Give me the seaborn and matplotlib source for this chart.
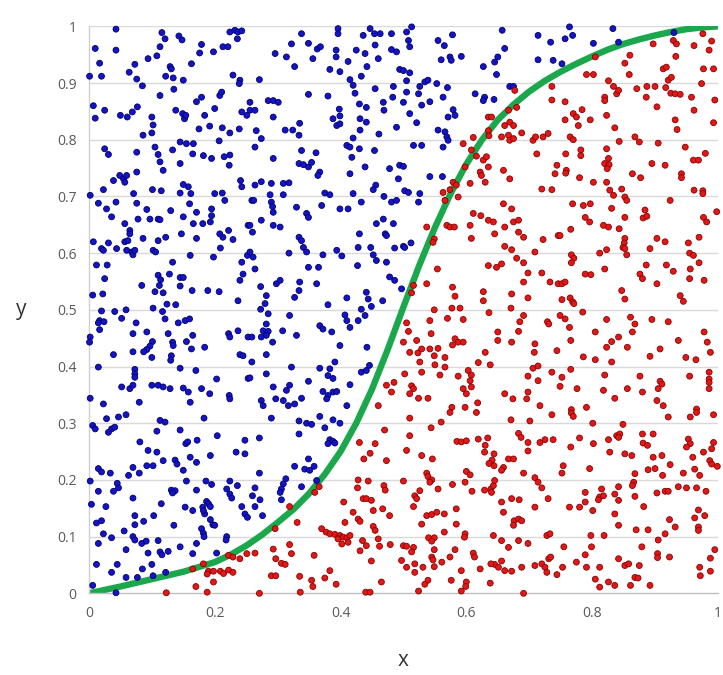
import pandas as pd
import matplotlib
matplotlib.use('Agg')
import matplotlib.pyplot as plt
import seaborn as sns

# points above the curve (blue)
blue_pts = [
    (0.043,0.995),(0.010,0.961),(0.043,0.958),(0.116,0.989),(0.121,0.978),(0.143,0.983),(0.148,0.976),(0.017,0.935),
    (0.001,0.912),(0.020,0.912),(0.064,0.919),(0.073,0.933),(0.076,0.907),(0.085,0.895),(0.094,0.943),(0.108,0.948),
    (0.113,0.964),(0.129,0.929),(0.131,0.925),(0.122,0.912),(0.134,0.909),(0.150,0.905),(0.163,0.934),(0.176,0.953),
    (0.179,0.968),(0.198,0.955),(0.213,0.964),(0.221,0.964),(0.224,0.990),(0.232,0.993),(0.237,0.990),(0.243,0.992),
    (0.236,0.978),(0.229,0.914),(0.240,0.905),(0.239,0.899),(0.135,0.889),(0.113,0.878),(0.179,0.875),(0.171,0.867),
    (0.208,0.878),(0.211,0.884),(0.007,0.860),(0.010,0.838),(0.025,0.852),(0.050,0.843),(0.061,0.840),(0.069,0.849),
    (0.077,0.858),(0.100,0.840),(0.102,0.826),(0.100,0.812),(0.086,0.808),(0.138,0.852),(0.149,0.846),(0.152,0.837),
    (0.154,0.843),(0.184,0.843),(0.200,0.855),(0.175,0.819),(0.192,0.824),(0.212,0.821),(0.224,0.812),(0.239,0.819),
    (0.243,0.849),(0.251,0.843),(0.207,0.798),(0.025,0.784),(0.031,0.774),(0.076,0.778),(0.105,0.787),(0.110,0.774),
    (0.113,0.761),(0.118,0.746),(0.133,0.782),(0.145,0.796),(0.155,0.793),(0.166,0.793),(0.145,0.758),(0.165,0.775),
    (0.182,0.772),(0.195,0.767),(0.215,0.770),(0.224,0.773),(0.223,0.755),(0.076,0.743),(0.039,0.728),(0.049,0.737),
    (0.055,0.731),(0.057,0.725),(0.060,0.737),(0.023,0.712),(0.002,0.702),(0.015,0.688),(0.028,0.678),(0.043,0.690),
    (0.076,0.688),(0.092,0.677),(0.071,0.705),(0.101,0.712),(0.115,0.710),(0.145,0.706),(0.150,0.721),(0.158,0.717),
    (0.162,0.705),(0.160,0.687),(0.130,0.675),(0.200,0.705),(0.212,0.706),(0.216,0.693),(0.241,0.728),(0.243,0.717),
    (0.195,0.678),(0.171,0.672),
    (0.338,0.987),(0.322,0.969),(0.349,0.970),(0.363,0.960),(0.368,0.964),(0.356,0.943),(0.296,0.952),(0.314,0.946),
    (0.327,0.929),(0.396,0.996),(0.396,0.987),(0.393,0.958),(0.393,0.946),(0.383,0.924),(0.399,0.920),(0.412,0.938),
    (0.425,0.958),(0.439,0.952),(0.436,0.984),(0.447,0.996),(0.454,0.987),(0.455,0.967),(0.460,0.943),(0.442,0.929),
    (0.463,0.987),(0.481,0.987),(0.481,0.959),(0.489,0.955),(0.494,0.924),(0.271,0.906),(0.415,0.906),(0.420,0.896),
    (0.423,0.882),(0.433,0.912),(0.455,0.890),(0.484,0.894),(0.483,0.875),(0.349,0.880),(0.380,0.877),(0.285,0.869),
    (0.293,0.869),(0.301,0.866),(0.256,0.866),(0.256,0.852),(0.264,0.852),(0.293,0.840),(0.398,0.854),(0.399,0.842),
    (0.388,0.837),(0.394,0.825),(0.399,0.828),(0.430,0.863),(0.441,0.857),(0.468,0.866),(0.469,0.852),(0.431,0.837),
    (0.441,0.831),(0.431,0.817),(0.489,0.822),(0.335,0.829),(0.334,0.808),(0.312,0.817),(0.324,0.817),(0.266,0.816),
    (0.274,0.802),(0.264,0.787),(0.410,0.790),(0.415,0.787),(0.430,0.784),(0.420,0.803),(0.461,0.810),(0.454,0.781),
    (0.338,0.781),(0.361,0.777),(0.293,0.767),(0.418,0.769),(0.334,0.758),(0.341,0.756),(0.349,0.752),(0.354,0.760),
    (0.367,0.743),(0.364,0.737),(0.439,0.752),(0.478,0.749),(0.494,0.755),(0.415,0.740),(0.492,0.731),(0.264,0.720),
    (0.274,0.726),(0.290,0.723),(0.309,0.723),(0.318,0.724),(0.456,0.720),(0.452,0.712),(0.309,0.703),(0.288,0.703),
    (0.375,0.706),(0.383,0.703),(0.259,0.693),(0.262,0.693),(0.290,0.690),(0.292,0.682),(0.293,0.672),(0.330,0.681),
    (0.346,0.670),(0.370,0.684),(0.399,0.678),(0.412,0.678),(0.420,0.705),(0.433,0.690),(0.469,0.700),(0.481,0.690),
    (0.489,0.693),
    (0.513,0.999),(0.505,0.990),(0.508,0.975),(0.510,0.964),(0.500,0.922),(0.510,0.918),(0.505,0.904),(0.505,0.884),
    (0.500,0.866),(0.510,0.846),(0.521,0.830),(0.526,0.894),(0.534,0.902),(0.539,0.905),(0.524,0.881),(0.529,0.861),
    (0.542,0.867),(0.553,0.899),(0.570,0.892),(0.563,0.875),(0.555,0.975),(0.565,0.966),(0.560,0.941),(0.574,0.946),
    (0.576,0.940),(0.578,0.985),(0.592,0.947),(0.579,0.853),(0.582,0.843),(0.571,0.840),(0.555,0.817),(0.566,0.814),
    (0.569,0.805),(0.571,0.799),(0.563,0.787),(0.516,0.790),(0.529,0.790),(0.500,0.753),(0.542,0.735),(0.562,0.735),
    (0.502,0.710),(0.508,0.707),(0.526,0.705),(0.524,0.690),(0.614,0.881),(0.629,0.875),(0.627,0.869),(0.644,0.871),
    (0.627,0.929),(0.645,0.937),(0.650,0.946),(0.648,0.915),(0.657,0.993),(0.661,0.961),(0.669,0.894),(0.675,0.894),
    (0.714,0.984),(0.734,0.972),(0.714,0.941),(0.738,0.940),
    (0.764,0.999),(0.769,0.984),(0.757,0.978),(0.802,0.970),(0.833,0.996),(0.842,0.972),(0.752,0.934),(0.930,0.989),
    (0.036,0.664),(0.057,0.652),(0.065,0.640),(0.065,0.634),(0.078,0.660),(0.097,0.660),(0.110,0.660),(0.113,0.659),
    (0.150,0.664),(0.166,0.652),(0.181,0.652),(0.193,0.655),(0.195,0.666),(0.147,0.634),(0.086,0.626),(0.110,0.622),
    (0.122,0.628),(0.171,0.626),(0.208,0.634),(0.213,0.628),(0.222,0.640),(0.229,0.624),(0.253,0.649),(0.007,0.620),
    (0.031,0.618),(0.020,0.608),(0.023,0.605),(0.044,0.608),(0.057,0.620),(0.062,0.622),(0.060,0.605),(0.068,0.602),
    (0.070,0.597),(0.073,0.605),(0.102,0.605),(0.106,0.602),(0.161,0.596),(0.198,0.593),(0.209,0.609),(0.012,0.579),
    (0.029,0.579),(0.133,0.584),(0.243,0.584),(0.252,0.596),(0.025,0.555),(0.084,0.543),(0.110,0.561),(0.114,0.553),
    (0.112,0.543),(0.105,0.532),(0.118,0.530),(0.128,0.563),(0.145,0.557),(0.150,0.557),(0.145,0.542),(0.164,0.534),
    (0.189,0.534),(0.207,0.532),(0.240,0.552),(0.245,0.563),(0.237,0.516),(0.006,0.526),(0.022,0.528),(0.124,0.510),
    (0.138,0.509),(0.102,0.503),(0.117,0.497),(0.020,0.498),(0.041,0.497),(0.059,0.500),(0.017,0.481),(0.015,0.477),
    (0.024,0.479),(0.017,0.465),(0.052,0.485),(0.075,0.477),(0.121,0.484),(0.142,0.477),(0.153,0.481),(0.160,0.484),
    (0.002,0.452),(0.001,0.443),(0.070,0.458),(0.092,0.461),(0.126,0.458),(0.165,0.455),(0.222,0.458),(0.224,0.452),
    (0.237,0.463),(0.253,0.452),(0.101,0.444),(0.097,0.436),(0.092,0.430),(0.087,0.426),(0.133,0.443),(0.134,0.437),
    (0.155,0.444),(0.163,0.431),(0.184,0.434),(0.039,0.421),(0.070,0.426),(0.100,0.416),(0.131,0.419),(0.130,0.411),
    (0.240,0.421),(0.245,0.419),(0.015,0.399),(0.073,0.395),(0.073,0.387),(0.073,0.381),(0.145,0.397),(0.170,0.393),
    (0.253,0.379),(0.052,0.364),(0.065,0.361),(0.070,0.367),(0.100,0.367),(0.110,0.367),(0.118,0.364),(0.129,0.361),
    (0.150,0.362),(0.158,0.355),(0.179,0.361),(0.192,0.352),(0.203,0.378),(0.223,0.349),(0.224,0.343),(0.002,0.344),
    (0.023,0.334),(0.080,0.337),(0.161,0.337),
    (0.256,0.649),(0.260,0.637),(0.274,0.658),(0.293,0.649),(0.304,0.646),(0.349,0.663),(0.334,0.628),(0.338,0.622),
    (0.341,0.610),(0.346,0.602),(0.318,0.600),(0.372,0.597),(0.394,0.605),(0.402,0.595),(0.428,0.610),(0.430,0.634),
    (0.448,0.610),(0.452,0.597),(0.457,0.587),(0.457,0.652),(0.468,0.660),(0.471,0.634),(0.473,0.631),(0.484,0.652),
    (0.486,0.609),(0.500,0.612),(0.473,0.584),(0.256,0.602),(0.261,0.593),(0.264,0.572),(0.349,0.575),(0.365,0.575),
    (0.427,0.578),(0.478,0.558),(0.486,0.552),(0.497,0.537),(0.273,0.541),(0.298,0.546),(0.304,0.552),(0.335,0.549),
    (0.334,0.534),(0.362,0.546),(0.327,0.522),(0.282,0.525),(0.280,0.511),(0.380,0.509),(0.410,0.521),(0.441,0.531),
    (0.444,0.519),(0.449,0.506),(0.467,0.516),(0.273,0.501),(0.285,0.493),(0.319,0.490),(0.407,0.491),(0.410,0.481),
    (0.415,0.469),(0.428,0.481),(0.433,0.501),(0.439,0.490),(0.282,0.475),(0.277,0.463),(0.285,0.462),(0.282,0.455),
    (0.274,0.452),(0.259,0.452),(0.292,0.443),(0.308,0.463),(0.330,0.455),(0.367,0.472),(0.372,0.466),(0.386,0.461),
    (0.399,0.437),(0.442,0.434),(0.282,0.421),(0.259,0.408),(0.282,0.387),(0.322,0.399),(0.367,0.397),(0.383,0.396),
    (0.391,0.408),(0.380,0.384),(0.388,0.379),(0.433,0.390),(0.441,0.393),(0.446,0.402),(0.256,0.380),(0.349,0.374),
    (0.415,0.368),(0.293,0.364),(0.319,0.367),(0.314,0.358),(0.372,0.356),(0.380,0.349),(0.388,0.355),(0.394,0.356),
    (0.378,0.343),(0.274,0.340),(0.277,0.331),(0.297,0.343),(0.309,0.340),(0.327,0.334),(0.338,0.344),(0.317,0.331),
    (0.410,0.331),(0.502,0.610),(0.512,0.618),
    (0.059,0.315),(0.047,0.311),(0.028,0.308),(0.036,0.290),(0.031,0.284),(0.041,0.293),(0.006,0.296),(0.010,0.290),
    (0.113,0.305),(0.121,0.302),(0.108,0.286),(0.145,0.288),(0.183,0.309),(0.081,0.267),(0.154,0.264),(0.157,0.267),
    (0.172,0.270),(0.204,0.278),(0.248,0.270),(0.234,0.249),(0.248,0.246),(0.094,0.252),(0.108,0.249),(0.193,0.243),
    (0.161,0.240),(0.171,0.231),(0.118,0.234),(0.137,0.235),(0.140,0.228),(0.150,0.217),(0.092,0.225),(0.102,0.225),
    (0.070,0.222),(0.063,0.208),(0.080,0.212),(0.015,0.220),(0.020,0.214),(0.034,0.212),(0.002,0.198),(0.045,0.194),
    (0.047,0.186),(0.039,0.180),(0.015,0.180),(0.070,0.168),(0.155,0.198),(0.186,0.198),(0.195,0.192),(0.171,0.182),
    (0.131,0.182),(0.137,0.181),(0.133,0.177),(0.219,0.184),(0.224,0.175),(0.227,0.168),(0.236,0.190),(0.224,0.198),
    (0.004,0.157),(0.027,0.153),(0.115,0.158),(0.153,0.152),(0.165,0.146),(0.181,0.152),(0.187,0.162),(0.190,0.158),
    (0.193,0.153),(0.184,0.140),(0.182,0.146),(0.243,0.153),(0.248,0.140),(0.252,0.134),(0.073,0.137),(0.087,0.127),
    (0.103,0.137),(0.012,0.124),(0.020,0.128),(0.073,0.121),(0.135,0.120),(0.179,0.114),(0.182,0.106),(0.183,0.100),
    (0.193,0.130),(0.197,0.121),(0.200,0.120),(0.056,0.110),(0.023,0.105),(0.036,0.098),(0.015,0.088),(0.070,0.100),
    (0.073,0.094),(0.084,0.088),(0.091,0.092),(0.110,0.093),(0.219,0.100),(0.218,0.094),(0.059,0.077),(0.094,0.071),
    (0.113,0.073),(0.116,0.068),(0.126,0.074),(0.145,0.082),(0.171,0.088),(0.165,0.070),(0.203,0.071),(0.012,0.051),
    (0.045,0.051),(0.100,0.051),(0.036,0.037),(0.059,0.028),(0.077,0.028),(0.085,0.043),(0.102,0.031),(0.122,0.037),
    (0.006,0.014),(0.043,0.001),
    (0.290,0.309),(0.334,0.304),(0.346,0.300),(0.354,0.298),(0.367,0.312),(0.388,0.306),(0.399,0.300),(0.375,0.292),
    (0.334,0.281),(0.271,0.274),(0.383,0.271),(0.388,0.268),(0.380,0.264),(0.391,0.265),(0.349,0.237),(0.327,0.224),
    (0.343,0.219),(0.351,0.217),(0.358,0.224),(0.271,0.212),(0.362,0.199),(0.313,0.202),(0.309,0.193),(0.306,0.184),
    (0.304,0.178),(0.338,0.188),(0.264,0.186),(0.260,0.172),(0.272,0.165),(0.264,0.153),(0.276,0.137),(0.306,0.165),
]

# points below the curve (red)
red_pts = [
    (0.677,0.887),(0.736,0.894),(0.736,0.870),(0.635,0.840),(0.640,0.840),(0.667,0.852),(0.680,0.857),(0.669,0.831),
    (0.661,0.825),(0.675,0.825),(0.635,0.816),(0.636,0.807),(0.611,0.804),(0.595,0.793),(0.656,0.805),(0.667,0.808),
    (0.669,0.799),(0.675,0.802),(0.688,0.812),(0.706,0.799),(0.710,0.805),(0.722,0.805),(0.730,0.811),(0.712,0.775),
    (0.608,0.782),(0.616,0.771),(0.627,0.764),(0.632,0.770),(0.635,0.752),(0.622,0.743),(0.659,0.746),(0.669,0.731),
    (0.744,0.755),(0.741,0.740),(0.598,0.752),(0.606,0.723),(0.579,0.725),(0.584,0.720),(0.574,0.712),(0.563,0.707),
    (0.566,0.693),(0.587,0.699),(0.720,0.713),(0.736,0.712),(0.659,0.687),(0.672,0.678),(0.611,0.670),(0.624,0.737),
    (0.630,0.725),
    (0.805,0.946),(0.860,0.949),(0.852,0.935),(0.859,0.915),(0.791,0.915),(0.802,0.915),(0.826,0.904),(0.834,0.894),
    (0.839,0.881),(0.842,0.887),(0.820,0.875),(0.820,0.869),(0.871,0.890),(0.887,0.894),(0.900,0.894),(0.886,0.875),
    (0.903,0.858),(0.897,0.969),(0.929,0.975),(0.934,0.969),(0.933,0.947),(0.913,0.925),(0.918,0.928),(0.921,0.905),
    (0.926,0.910),(0.917,0.892),(0.925,0.882),(0.932,0.881),(0.940,0.880),(0.958,0.875),(0.962,0.852),(0.962,0.966),
    (0.976,0.987),(0.990,0.974),(0.986,0.958),(0.977,0.925),(0.993,0.925),(0.974,0.899),(0.995,0.870),(0.993,0.830),
    (0.932,0.835),(0.935,0.818),(0.757,0.867),(0.757,0.835),(0.770,0.846),(0.775,0.840),(0.778,0.825),(0.784,0.853),
    (0.797,0.835),(0.823,0.843),(0.836,0.821),(0.765,0.805),(0.770,0.800),(0.782,0.782),(0.782,0.772),(0.758,0.775),
    (0.759,0.746),(0.758,0.741),(0.780,0.733),(0.802,0.725),(0.823,0.784),(0.826,0.767),(0.820,0.758),(0.827,0.756),
    (0.824,0.749),(0.843,0.797),(0.868,0.805),(0.875,0.796),(0.905,0.794),(0.948,0.787),(0.895,0.758),(0.916,0.755),
    (0.961,0.764),(0.969,0.764),(0.980,0.776),(0.864,0.740),(0.877,0.733),(0.942,0.740),(0.942,0.733),(0.823,0.725),
    (0.828,0.711),(0.834,0.702),(0.847,0.713),(0.852,0.699),(0.855,0.693),(0.769,0.687),(0.786,0.684),(0.797,0.687),
    (0.924,0.693),(0.962,0.711),(0.976,0.710),(0.976,0.705),(0.884,0.676),(0.998,0.673),(0.831,0.679),
    (0.500,0.443),(0.473,0.367),(0.485,0.372),(0.481,0.355),(0.460,0.331),
    (0.537,0.646),(0.569,0.649),(0.574,0.646),(0.581,0.646),(0.549,0.625),(0.547,0.619),(0.623,0.666),(0.635,0.658),
    (0.643,0.655),(0.606,0.649),(0.608,0.626),(0.645,0.634),(0.661,0.646),(0.675,0.655),(0.683,0.658),(0.683,0.637),
    (0.691,0.628),(0.722,0.624),(0.746,0.631),(0.661,0.612),(0.672,0.606),(0.709,0.602),(0.680,0.591),(0.691,0.583),
    (0.635,0.578),(0.648,0.575),(0.656,0.581),(0.554,0.572),(0.698,0.565),(0.720,0.565),(0.691,0.549),(0.733,0.549),
    (0.746,0.546),(0.537,0.546),(0.516,0.543),(0.513,0.530),(0.578,0.540),(0.582,0.524),(0.627,0.532),(0.627,0.516),
    (0.672,0.528),(0.698,0.521),(0.549,0.500),(0.542,0.481),(0.577,0.503),(0.590,0.503),(0.570,0.485),(0.595,0.483),
    (0.636,0.495),(0.671,0.503),(0.691,0.490),(0.685,0.479),(0.729,0.479),(0.731,0.475),(0.505,0.477),(0.508,0.462),
    (0.544,0.458),(0.650,0.461),(0.650,0.446),(0.683,0.462),(0.521,0.446),(0.582,0.449),(0.587,0.443),(0.578,0.438),
    (0.595,0.443),(0.672,0.443),(0.709,0.440),(0.510,0.425),(0.523,0.424),(0.529,0.431),(0.542,0.431),(0.555,0.432),
    (0.549,0.419),(0.566,0.416),(0.630,0.425),(0.708,0.425),(0.744,0.428),(0.526,0.408),(0.550,0.403),(0.566,0.399),
    (0.619,0.407),(0.638,0.403),(0.706,0.397),(0.714,0.401),(0.529,0.390),(0.502,0.387),(0.558,0.385),(0.587,0.383),
    (0.603,0.393),(0.608,0.385),(0.606,0.375),(0.698,0.383),(0.714,0.375),(0.736,0.390),(0.513,0.366),(0.516,0.361),
    (0.510,0.352),(0.524,0.344),(0.539,0.344),(0.595,0.361),(0.600,0.352),(0.608,0.364),(0.577,0.328),(0.598,0.328),
    (0.618,0.336),(0.661,0.352),(0.674,0.343),(0.698,0.355),(0.696,0.343),(0.717,0.331),
    (0.789,0.663),(0.796,0.655),(0.881,0.662),(0.887,0.665),(0.852,0.663),(0.818,0.649),(0.826,0.646),(0.843,0.643),
    (0.766,0.642),(0.749,0.631),(0.977,0.663),(0.982,0.655),(0.903,0.626),(0.916,0.620),(0.953,0.618),(0.970,0.628),
    (0.852,0.626),(0.851,0.618),(0.849,0.610),(0.852,0.608),(0.855,0.597),(0.812,0.600),(0.823,0.606),(0.892,0.608),
    (0.767,0.597),(0.771,0.591),(0.767,0.583),(0.955,0.600),(0.961,0.596),(0.956,0.572),(0.970,0.583),(0.886,0.579),
    (0.918,0.579),(0.929,0.568),(0.820,0.572),(0.789,0.563),(0.798,0.562),(0.876,0.563),(0.880,0.555),(0.903,0.546),
    (0.955,0.555),(0.978,0.552),(0.752,0.546),(0.757,0.549),(0.847,0.534),(0.852,0.519),(0.940,0.525),(0.945,0.515),
    (0.752,0.518),(0.765,0.521),(0.769,0.514),(0.771,0.511),(0.785,0.496),(0.749,0.490),(0.757,0.484),(0.764,0.469),
    (0.823,0.483),(0.861,0.487),(0.868,0.475),(0.864,0.461),(0.895,0.483),(0.921,0.479),(0.805,0.461),(0.766,0.446),
    (0.842,0.452),(0.831,0.444),(0.823,0.434),(0.856,0.434),(0.937,0.446),(0.978,0.461),(0.983,0.443),(0.988,0.425),
    (0.908,0.431),(0.786,0.417),(0.805,0.412),(0.831,0.408),(0.892,0.418),(0.949,0.416),(0.965,0.412),(0.766,0.395),
    (0.752,0.381),(0.749,0.365),(0.820,0.385),(0.876,0.383),(0.908,0.374),(0.911,0.369),(0.905,0.361),(0.955,0.383),
    (0.986,0.390),(0.986,0.378),(0.986,0.372),(0.986,0.361),(0.776,0.361),(0.818,0.358),(0.856,0.361),(0.880,0.355),
    (0.836,0.344),(0.903,0.340),(0.913,0.331),(0.791,0.328),(0.767,0.324),(0.966,0.325),
    (0.123,0.001),(0.165,0.043),(0.190,0.039),(0.188,0.034),(0.198,0.039),(0.209,0.039),(0.214,0.035),(0.222,0.041),
    (0.229,0.037),(0.182,0.052),(0.222,0.067),(0.229,0.064),(0.240,0.061),(0.251,0.070),(0.198,0.020),(0.170,0.012),
    (0.188,0.002),
    (0.470,0.288),(0.430,0.266),(0.455,0.264),(0.447,0.247),(0.437,0.237),(0.473,0.234),(0.428,0.200),(0.444,0.198),
    (0.427,0.186),(0.469,0.190),(0.471,0.182),(0.500,0.198),(0.436,0.167),(0.441,0.167),(0.449,0.164),(0.405,0.161),
    (0.366,0.188),(0.359,0.178),(0.319,0.153),(0.420,0.143),(0.428,0.131),(0.431,0.127),(0.452,0.146),(0.467,0.149),
    (0.478,0.137),(0.331,0.125),(0.407,0.125),(0.452,0.118),(0.455,0.111),(0.296,0.114),(0.370,0.114),(0.377,0.108),
    (0.383,0.105),(0.391,0.104),(0.399,0.102),(0.404,0.099),(0.396,0.096),(0.410,0.098),(0.412,0.090),(0.415,0.102),
    (0.402,0.087),(0.435,0.093),(0.441,0.084),(0.460,0.096),(0.462,0.083),(0.479,0.086),(0.431,0.075),(0.500,0.084),
    (0.497,0.058),(0.264,0.071),(0.293,0.078),(0.319,0.086),(0.322,0.070),(0.297,0.061),(0.306,0.053),(0.312,0.051),
    (0.358,0.067),(0.449,0.057),(0.383,0.040),(0.375,0.027),(0.290,0.031),(0.297,0.031),(0.335,0.030),(0.354,0.023),
    (0.356,0.012),(0.393,0.016),(0.465,0.020),(0.271,0.000),(0.336,0.002),(0.440,0.002),(0.447,0.002),
    (0.510,0.309),(0.544,0.292),(0.560,0.302),(0.574,0.319),(0.616,0.319),(0.671,0.306),(0.701,0.304),(0.736,0.315),
    (0.510,0.278),(0.505,0.252),(0.529,0.243),(0.546,0.237),(0.585,0.268),(0.592,0.267),(0.600,0.269),(0.619,0.272),
    (0.634,0.274),(0.630,0.261),(0.629,0.249),(0.644,0.246),(0.641,0.235),(0.636,0.229),(0.644,0.225),(0.659,0.222),
    (0.656,0.217),(0.667,0.237),(0.675,0.237),(0.683,0.282),(0.687,0.275),(0.698,0.266),(0.698,0.251),(0.717,0.266),
    (0.725,0.271),(0.738,0.271),(0.691,0.212),(0.709,0.204),(0.714,0.196),(0.720,0.186),(0.730,0.167),(0.537,0.212),
    (0.539,0.206),(0.545,0.200),(0.542,0.196),(0.518,0.172),(0.526,0.181),(0.521,0.167),(0.555,0.184),(0.578,0.192),
    (0.600,0.215),(0.606,0.209),(0.598,0.196),(0.609,0.180),(0.629,0.182),(0.639,0.184),(0.643,0.190),(0.645,0.199),
    (0.640,0.178),(0.656,0.161),(0.659,0.143),(0.672,0.167),(0.684,0.165),(0.709,0.152),(0.676,0.128),(0.683,0.131),
    (0.688,0.128),(0.675,0.120),(0.584,0.149),(0.584,0.122),(0.516,0.153),(0.537,0.137),(0.545,0.139),(0.553,0.143),
    (0.565,0.140),(0.529,0.122),(0.565,0.108),(0.598,0.105),(0.597,0.099),(0.540,0.098),(0.549,0.098),(0.545,0.092),
    (0.505,0.083),(0.516,0.081),(0.513,0.073),(0.643,0.102),(0.656,0.093),(0.667,0.081),(0.683,0.093),(0.698,0.088),
    (0.728,0.102),(0.733,0.105),(0.582,0.077),(0.549,0.077),(0.545,0.064),(0.547,0.059),(0.611,0.071),(0.613,0.064),
    (0.574,0.064),(0.561,0.055),(0.549,0.047),(0.505,0.046),(0.518,0.052),(0.518,0.037),(0.531,0.046),(0.656,0.057),
    (0.645,0.051),(0.651,0.046),(0.661,0.040),(0.672,0.039),(0.639,0.052),(0.622,0.043),(0.592,0.040),(0.688,0.046),
    (0.709,0.049),(0.720,0.052),(0.725,0.046),(0.731,0.061),(0.734,0.064),(0.744,0.033),(0.728,0.037),(0.539,0.023),
    (0.534,0.016),(0.576,0.023),(0.600,0.020),(0.599,0.012),(0.592,0.004),(0.638,0.018),(0.524,0.004),(0.691,0.000),
    (0.767,0.318),(0.770,0.312),(0.801,0.300),(0.921,0.311),(0.956,0.311),(0.966,0.319),(0.993,0.315),(0.766,0.258),
    (0.780,0.274),(0.802,0.264),(0.826,0.271),(0.828,0.249),(0.839,0.278),(0.844,0.281),(0.849,0.298),(0.842,0.275),
    (0.852,0.246),(0.863,0.243),(0.880,0.281),(0.897,0.281),(0.881,0.265),(0.888,0.261),(0.897,0.240),(0.911,0.243),
    (0.889,0.218),(0.900,0.220),(0.912,0.208),(0.924,0.227),(0.945,0.212),(0.953,0.272),(0.956,0.264),(0.950,0.258),
    (0.960,0.240),(0.963,0.219),(0.971,0.208),(0.977,0.249),(0.987,0.234),(0.990,0.228),(0.993,0.266),(0.990,0.255),
    (0.999,0.224),(0.754,0.225),(0.752,0.212),(0.796,0.220),(0.868,0.211),(0.866,0.196),(0.864,0.190),(0.842,0.188),
    (0.836,0.175),(0.842,0.164),(0.868,0.171),(0.764,0.152),(0.780,0.152),(0.789,0.161),(0.789,0.178),(0.801,0.146),
    (0.815,0.184),(0.812,0.170),(0.810,0.165),(0.818,0.172),(0.836,0.140),(0.842,0.120),(0.882,0.153),(0.903,0.177),
    (0.916,0.180),(0.921,0.180),(0.937,0.188),(0.950,0.186),(0.966,0.186),(0.981,0.180),(0.969,0.147),(0.963,0.133),
    (0.979,0.137),(0.969,0.117),(0.969,0.111),(0.923,0.130),(0.932,0.117),(0.870,0.112),(0.889,0.112),(0.916,0.105),
    (0.905,0.094),(0.798,0.102),(0.819,0.102),(0.755,0.082),(0.799,0.082),(0.879,0.082),(0.904,0.070),(0.904,0.063),
    (0.923,0.064),(0.995,0.077),(0.988,0.062),(0.753,0.046),(0.775,0.055),(0.789,0.068),(0.791,0.046),(0.812,0.046),
    (0.842,0.061),(0.852,0.049),(0.858,0.052),(0.875,0.049),(0.971,0.046),(0.972,0.031),(0.988,0.039),(0.805,0.025),
    (0.812,0.011),(0.826,0.020),(0.836,0.014),(0.868,0.028),(0.873,0.027),(0.861,0.014),(0.892,0.014),
]

# S-shaped boundary curve
curve_x = [0, 0.05, 0.10, 0.15, 0.20, 0.225, 0.25, 0.275, 0.30, 0.325, 0.35, 0.375, 0.40,
           0.425, 0.45, 0.475, 0.50, 0.525, 0.55, 0.575, 0.60, 0.625, 0.65, 0.675, 0.70,
           0.725, 0.75, 0.775, 0.80, 0.825, 0.85, 0.875, 0.90, 0.925, 0.95, 0.975, 1.0]
curve_y = [0, 0.012, 0.025, 0.038, 0.055, 0.068, 0.084, 0.103, 0.125, 0.148, 0.176, 0.21, 0.25,
           0.30, 0.36, 0.43, 0.505, 0.578, 0.645, 0.705, 0.757, 0.800, 0.835, 0.862, 0.885,
           0.904, 0.920, 0.934, 0.947, 0.959, 0.969, 0.977, 0.984, 0.990, 0.995, 0.998, 1.0]

x_ticks = [0, 0.2, 0.4, 0.6, 0.8, 1]
x_tick_labels = ['0', '0.2', '0.4', '0.6', '0.8', '1']
y_ticks = [0, 0.1, 0.2, 0.3, 0.4, 0.5, 0.6, 0.7, 0.8, 0.9, 1]
y_tick_labels = ['0', '0.1', '0.2', '0.3', '0.4', '0.5', '0.6', '0.7', '0.8', '0.9', '1']

pts = pd.DataFrame(blue_pts + red_pts, columns=['x', 'y'])
pts['side'] = ['above'] * len(blue_pts) + ['below'] * len(red_pts)
curve = pd.DataFrame({'x': curve_x, 'y': curve_y})

sns.set_style('white')
plt.rcParams['font.family'] = ['Open Sans', 'DejaVu Sans']

fig = plt.figure(figsize=(7.23, 6.75), dpi=100)
ax = fig.add_axes([0.123, 0.121, 0.870, 0.840])

for v in y_ticks[1:]:
    ax.axhline(v, color='#d9d9d9', lw=1.0, zorder=0)

sns.lineplot(data=curve, x='x', y='y', sort=False, estimator=None,
             color='#1ba84c', lw=4.6, ax=ax, zorder=2,
             solid_joinstyle='round', solid_capstyle='round')
sns.scatterplot(data=pts, x='x', y='y', hue='side',
                palette={'above': '#1414c4', 'below': '#e01818'},
                s=18, linewidth=0.6, edgecolor=None, legend=False,
                ax=ax, zorder=3, clip_on=False)
coll = ax.collections[-1]
edge = ['#00006e' if s == 'above' else '#8a0000' for s in pts['side']]
coll.set_edgecolors(edge)

ax.set_xlim(0, 1)
ax.set_ylim(0, 1)
ax.set_xticks(x_ticks)
ax.set_xticklabels(x_tick_labels)
ax.set_yticks(y_ticks)
ax.set_yticklabels(y_tick_labels)
ax.tick_params(axis='both', length=0, labelsize=10, colors='#595959', pad=9)

for side in ['top', 'right']:
    ax.spines[side].set_visible(False)
ax.spines['left'].set_color('#d0d0d0')
ax.spines['bottom'].set_color('#bfbfbf')
ax.spines['left'].set_linewidth(1.0)
ax.spines['bottom'].set_linewidth(1.0)

ax.set_xlabel('x', fontsize=15, color='#333333')
ax.set_ylabel('y', fontsize=15, color='#333333', rotation=0)
ax.xaxis.set_label_coords(0.5, -0.118)
ax.yaxis.set_label_coords(-0.108, 0.5)
ax.yaxis.label.set_va('center')
ax.xaxis.label.set_va('center')

plt.savefig('out.png', dpi=100)
